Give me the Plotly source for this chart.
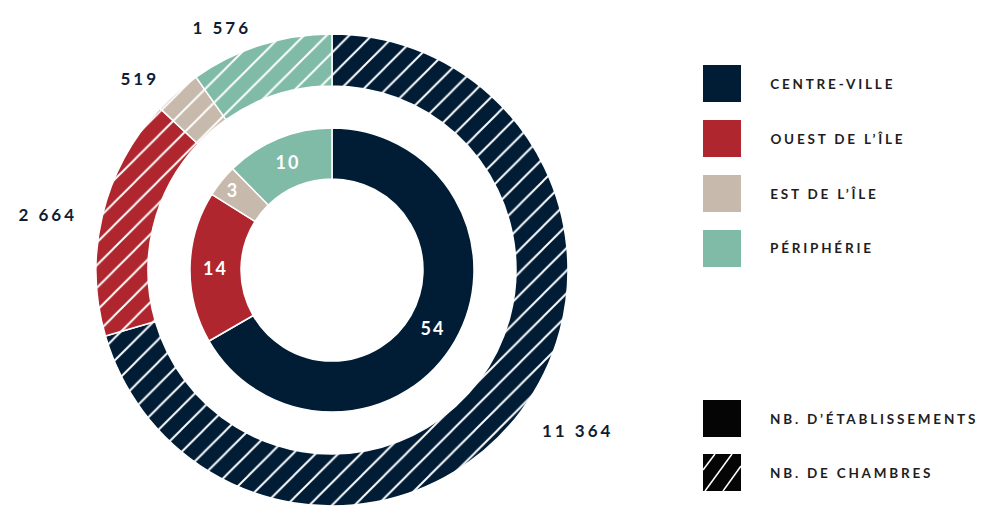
import math
import plotly.graph_objects as go

# ---- data ----
regions = ["CENTRE-VILLE", "OUEST DE L’ÎLE", "EST DE L’ÎLE", "PÉRIPHÉRIE"]
establishments = [54, 14, 3, 10]
rooms = [11364, 2664, 519, 1576]
region_colors = ["#011d36", "#b0262e", "#c7b9ac", "#80bba8"]
measure_labels = ["NB. D’ÉTABLISSEMENTS", "NB. DE CHAMBRES"]

W, H = 982, 506
OFF = 0  # body margin removed in post script


def px(x):
    return (x - OFF) / W


def py(y):
    return 1 - (y - OFF) / H


CX, CY = 332, 270
R_OUT, R_IN = 236, 142
FONT = "Lato"
NAVY_TXT = "#0f1d33"
LEG_TXT = "#1f1d1e"

fig = go.Figure()

# outer ring: rooms (hatched)
fig.add_trace(go.Pie(
    labels=regions, values=rooms, sort=False, direction="clockwise", rotation=0,
    hole=184 / 236,
    domain=dict(x=[px(CX - R_OUT), px(CX + R_OUT)], y=[max(0, py(CY + R_OUT)), py(CY - R_OUT)]),
    marker=dict(colors=region_colors, line=dict(color="white", width=1.5),
                pattern=dict(shape="/", fgcolor="white", bgcolor=region_colors,
                             size=16, solidity=0.12, fillmode="replace")),
    textinfo="none",
    hoverinfo="skip", showlegend=False,
))

# inner ring: establishments
fig.add_trace(go.Pie(
    labels=regions, values=establishments, sort=False, direction="clockwise", rotation=0,
    hole=91 / 142,
    domain=dict(x=[px(CX - R_IN), px(CX + R_IN)], y=[py(CY + R_IN), py(CY - R_IN)]),
    marker=dict(colors=region_colors, line=dict(color="white", width=1.5)),
    texttemplate="%{value}", textposition="inside", insidetextorientation="horizontal",
    insidetextfont=dict(family=FONT, size=18, color="white", weight="bold"),
    hoverinfo="skip", showlegend=False,
))

shapes = []
annotations = []

# outer value labels, placed from the slice mid-angles derived from the data
NUM_LS = 3.0
total = sum(rooms)
cum = 0
LBL_R = 260
for v in rooms:
    mid = (cum + v / 2) / total * 2 * math.pi
    cum += v
    sx, sy = math.sin(mid), -math.cos(mid)
    txt = f"{v:,}".replace(",", " ")
    shift = len(txt) * NUM_LS / 2
    right_side = sx > 0
    annotations.append(dict(
        text=txt, xref="paper", yref="paper",
        x=px(CX + LBL_R * sx + (shift if right_side else -shift)), y=py(CY + LBL_R * sy + 5),
        xanchor="left" if right_side else "right", yanchor="middle", showarrow=False,
        font=dict(family=FONT, size=17, color=NAVY_TXT, weight="bold")))

LS = 2.8
sq_x0, sq_x1 = 703, 741
# region legend
for i, (lab, col) in enumerate(zip(regions, region_colors)):
    y0 = 65 + i * 55
    shapes.append(dict(type="rect", xref="paper", yref="paper",
                       x0=px(sq_x0), x1=px(sq_x1), y0=py(y0 + 37), y1=py(y0),
                       fillcolor=col, line=dict(width=0)))
    annotations.append(dict(text=lab, xref="paper", yref="paper",
                            x=px(768 + len(lab) * LS / 2), y=py(y0 + 18.5),
                            xanchor="left", yanchor="middle", showarrow=False,
                            font=dict(family=FONT, size=13.5, color=LEG_TXT, weight="bold")))
# measure legend
for i, lab in enumerate(measure_labels):
    y0 = 400 + i * 54
    shapes.append(dict(type="rect", xref="paper", yref="paper",
                       x0=px(sq_x0), x1=px(sq_x1), y0=py(y0 + 37), y1=py(y0),
                       fillcolor="#050505", line=dict(width=0)))
    annotations.append(dict(text=lab, xref="paper", yref="paper",
                            x=px(768 + len(lab) * LS / 2), y=py(y0 + 18.5),
                            xanchor="left", yanchor="middle", showarrow=False,
                            font=dict(family=FONT, size=13.5, color=LEG_TXT, weight="bold")))
# hatch lines in second measure swatch
for (xa, ya, xb, yb) in [(715, 454, 703, 470), (732, 454, 705, 491), (741, 466, 723, 491)]:
    shapes.append(dict(type="line", xref="paper", yref="paper",
                       x0=px(xa), y0=py(ya), x1=px(xb), y1=py(yb),
                       line=dict(color="white", width=1.5)))

fig.update_layout(
    width=W, height=H, margin=dict(l=0, r=0, t=0, b=0),
    paper_bgcolor="white", plot_bgcolor="white",
    shapes=shapes, annotations=annotations,
    font=dict(family=FONT),
)

post = """
document.body.style.margin = '0';
document.body.style.overflow = 'hidden';
document.querySelectorAll('.annotation-text').forEach(function(e){
  var t = e.textContent;
  if (/[A-Z]/.test(t)) { e.style.letterSpacing = '2.8px'; } else { e.style.letterSpacing = '3px'; }
});
document.querySelectorAll('text.slicetext, .slicetext text').forEach(function(e){e.style.letterSpacing='2px';});
"""
fig.write_html("out.html", post_script=post, config={"displayModeBar": False, "staticPlot": True})
